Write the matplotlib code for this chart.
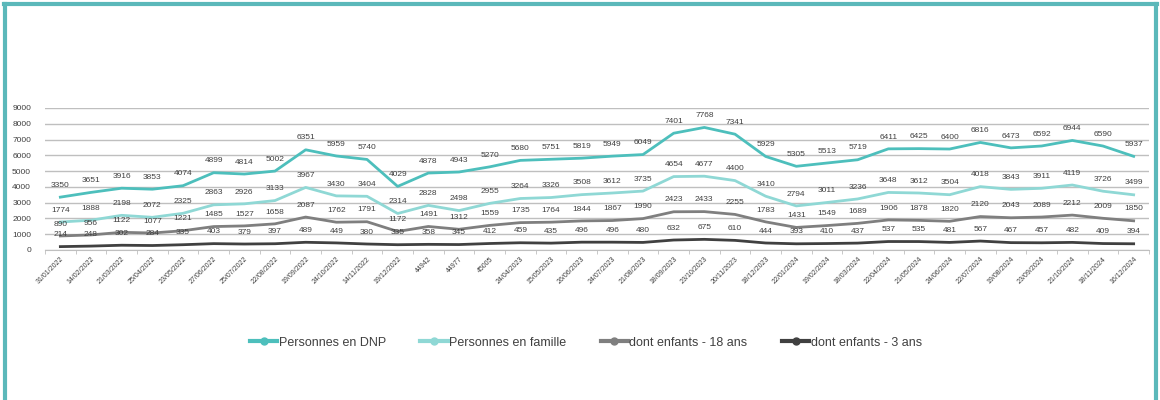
import numpy as np
import matplotlib.pyplot as plt

# dates as shown on the x axis (three of them are raw Excel serials)
dates = ["31/01/2022", "14/02/2022", "21/03/2022", "25/04/2022", "23/05/2022", "27/06/2022",
         "25/07/2022", "22/08/2022", "19/09/2022", "24/10/2022", "14/11/2022", "19/12/2022",
         "44942", "44977", "45005", "24/04/2023", "15/05/2023", "26/06/2023",
         "24/07/2023", "21/08/2023", "18/09/2023", "23/10/2023", "20/11/2023", "18/12/2023",
         "22/01/2024", "19/02/2024", "18/03/2024", "22/04/2024", "21/05/2024", "24/06/2024",
         "22/07/2024", "19/08/2024", "23/09/2024", "21/10/2024", "18/11/2024", "16/12/2024"]

dnp = [3350, 3651, 3916, 3853, 4074, 4899, 4814, 5002, 6351, 5959, 5740, 4029,
       4878, 4943, 5270, 5680, 5751, 5819, 5949, 6049, 7401, 7768, 7341, 5929,
       5305, 5513, 5719, 6411, 6425, 6400, 6816, 6473, 6592, 6944, 6590, 5937]
famille = [1774, 1888, 2198, 2072, 2325, 2863, 2926, 3133, 3967, 3430, 3404, 2314,
           2828, 2498, 2955, 3264, 3326, 3508, 3612, 3735, 4654, 4677, 4400, 3410,
           2794, 3011, 3236, 3648, 3612, 3504, 4018, 3843, 3911, 4119, 3726, 3499]
moins18 = [890, 956, 1122, 1077, 1221, 1485, 1527, 1658, 2087, 1762, 1791, 1172,
           1491, 1312, 1559, 1735, 1764, 1844, 1867, 1990, 2423, 2433, 2255, 1783,
           1431, 1549, 1689, 1906, 1878, 1820, 2120, 2043, 2089, 2212, 2009, 1850]
moins3 = [214, 248, 302, 284, 335, 403, 379, 397, 489, 449, 380, 335,
          358, 345, 412, 459, 435, 496, 496, 480, 632, 675, 610, 444,
          393, 410, 437, 537, 535, 481, 567, 467, 457, 482, 409, 394]

series = [("Personnes en DNP", dnp, "#4DBFBC"),
          ("Personnes en famille", famille, "#8FD8D5"),
          ("dont enfants - 18 ans", moins18, "#7F7F7F"),
          ("dont enfants - 3 ans", moins3, "#404040")]

plt.rcParams['font.family'] = ['Liberation Sans', 'DejaVu Sans']

fig = plt.figure(figsize=(11.6, 4), dpi=100)
ax = fig.add_axes([0.0388, 0.375, 0.9517, 0.355])

x = np.arange(len(dates))
for name, vals, col in series:
    ax.plot(x, vals, color=col, lw=2, label=name, solid_joinstyle='round')
    # value labels just above each point
    for xi, v in zip(x, vals):
        ax.annotate(str(v), (xi, v), xytext=(0, 6), textcoords='offset points',
                    ha='center', va='bottom', fontsize=6, color='#404040')

ax.set_xlim(-0.5, len(dates) - 0.5)
ax.set_ylim(0, 9000)
ax.set_yticks(range(0, 9001, 1000))
ax.tick_params(axis='y', length=0, labelsize=6, colors='#404040', pad=10)
ax.grid(axis='y', color='#BFBFBF', lw=1)
ax.set_axisbelow(True)

ax.set_xticks(x)
ax.set_xticklabels(dates, rotation=45, ha='right', rotation_mode='anchor', fontsize=5)
ax.tick_params(axis='x', which='major', length=0, pad=4, colors='#404040')
ax.set_xticks(np.arange(-0.5, len(dates), 1), minor=True)
ax.tick_params(axis='x', which='minor', length=3, color='#BFBFBF')

for s in ['top', 'right', 'left']:
    ax.spines[s].set_visible(False)
ax.spines['bottom'].set_color('#BFBFBF')

# legend with a dot in the middle of each handle
handles = [plt.Line2D([], [], color=c, lw=3, marker='o', markersize=5) for _, _, c in series]
fig.legend(handles, [s[0] for s in series], loc='center', bbox_to_anchor=(0.505, 0.143),
           ncol=4, frameon=False, fontsize=9, handlelength=2.2, handletextpad=0.1,
           columnspacing=2.75, labelcolor='#404040')

# teal frame (left, top, right)
teal = "#5BB8BA"
fig.add_artist(plt.Line2D([0.0047, 0.0047], [0, 0.99], color=teal, lw=3, transform=fig.transFigure))
fig.add_artist(plt.Line2D([0.9964, 0.9964], [0, 0.99], color=teal, lw=3, transform=fig.transFigure))
fig.add_artist(plt.Line2D([0.0035, 0.9976], [0.9888, 0.9888], color=teal, lw=3, transform=fig.transFigure))

fig.savefig("out.png", dpi=100)
